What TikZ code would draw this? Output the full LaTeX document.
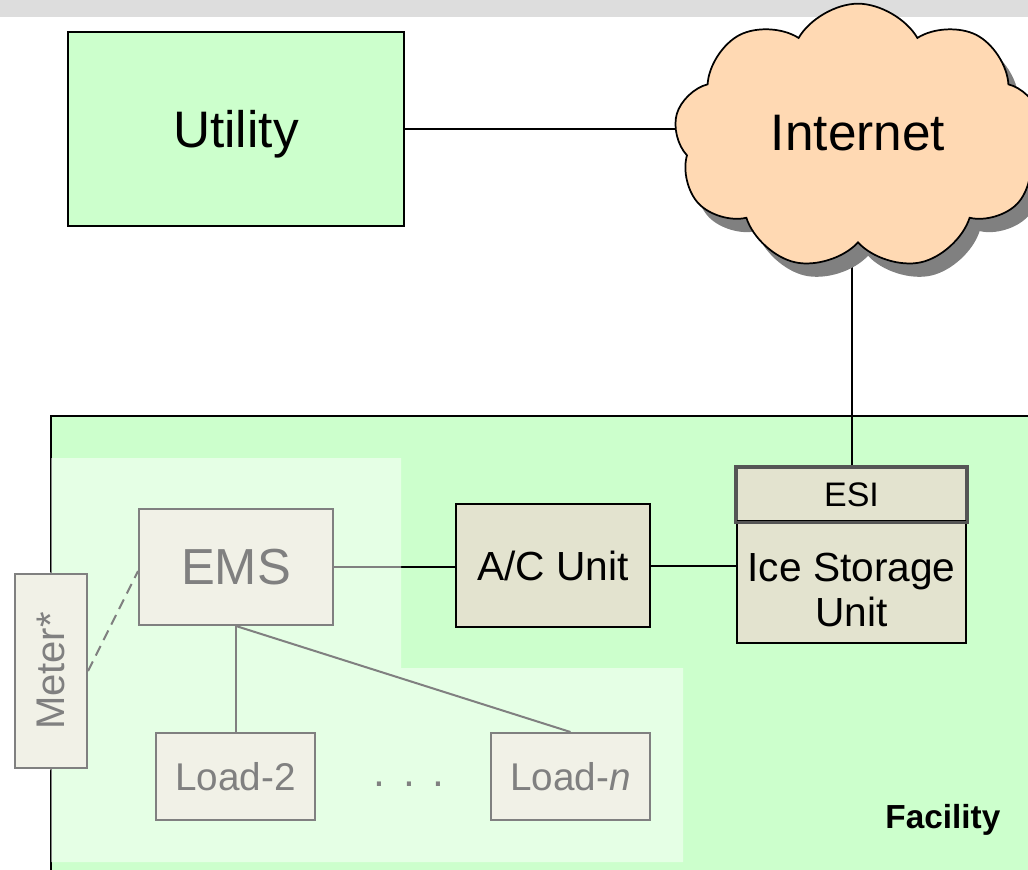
\documentclass[tikz,border=0pt]{standalone}
\usepackage{fontspec}
\setmainfont{Liberation Sans}
\usepackage{tikz}
\usetikzlibrary{calc}
\usetikzlibrary{positioning}
\usetikzlibrary{shapes.symbols, shadows}

\definecolor{facgreen}{RGB}{204,255,204}
\definecolor{unitfill}{RGB}{227,227,207}
\definecolor{cloudfill}{RGB}{255,217,179}
\definecolor{bandgray}{RGB}{221,221,221}
\definecolor{esiedge}{RGB}{85,85,85}

\pgfdeclarelayer{backdrop}
\pgfsetlayers{backdrop,main}

\tikzset{
  unitbox/.style={draw=black, line width=1.5pt, fill=unitfill, inner sep=0pt, align=center},
  wire/.style={draw=black, line width=1.5pt},
}

\begin{document}
\begin{tikzpicture}[x=0.75pt,y=0.75pt,yscale=-1,xscale=1]
            \useasboundingbox (0,0) rectangle (1028,869);
            \clip (0,0) rectangle (1028,869);

            % Text Node
            \node [draw=black, line width=1.5pt, fill=facgreen, minimum width=252pt, minimum height=145.5pt, text depth=0pt, font=\fontsize{38.5}{44}\selectfont] (util) at (236,129) {Utility};
            % Text Node
            \node [cloud, cloud puffs=9, cloud puff arc=120, cloud ignores aspect, draw=black, line width=1.3pt, fill=cloudfill, minimum width=276pt, minimum height=200pt, inner sep=0pt, font=\fontsize{38.5}{44}\selectfont, drop shadow={shadow xshift=7.5pt, shadow yshift=-10pt, opacity=1, fill=gray}] (net) at (858,137) {\raisebox{7pt}{Internet}};

            % Text Node
            \node [unitbox, minimum width=145.5pt, minimum height=92.25pt, font=\fontsize{30.5}{36}\selectfont] (ac) at (553,565.5) {A/C Unit};
            % Text Node
            \node [unitbox, draw=esiedge, line width=2pt, minimum width=171.75pt, minimum height=39.75pt, font=\fontsize{25.5}{30}\selectfont] (esi) at (851.5,494.5) {ESI};
            % Text Node
            \node [unitbox, minimum width=171.75pt, minimum height=91.5pt] (ice) at (851.5,582) {};
            \node [align=center, inner sep=0pt, font=\fontsize{30.5}{34}\selectfont] (icetext) at (851.5,590) {Ice Storage\\Unit};
            \draw [draw=esiedge, line width=2pt] (esi.north west) rectangle (esi.south east);

            % Text Node
            \node [unitbox, minimum width=145.5pt, minimum height=87pt, font=\fontsize{38}{44}\selectfont] (ems) at (236,567) {EMS};
            % Text Node
            \node [unitbox, rotate=90, minimum width=145.5pt, minimum height=54pt, font=\fontsize{30}{36}\selectfont] (meter) at (51,671) {Meter*};
            % Text Node
            \node [unitbox, minimum width=119.25pt, minimum height=65.25pt, font=\fontsize{29}{34}\selectfont] (load2) at (235.5,776.5) {Load-2};
            % Text Node
            \node [unitbox, minimum width=119.25pt, minimum height=65.25pt, font=\fontsize{29}{34}\selectfont] (loadn) at (570.5,776.5) {Load-\textit{n}};
            % Text Node
            \node [font=\fontsize{32}{34}\selectfont] (dots) at (409,784) {.\hspace{13pt}.\hspace{13pt}.};

            \begin{pgfonlayer}{backdrop}
            %Shape: Rectangle [top band]
            \fill [bandgray] (0,0) rectangle (1028,17);
            %Shape: Rectangle [facility]
            \draw [line width=1.5pt, fill=facgreen] (51,416) rectangle (1060,900);
            %Straight Lines
            \draw [wire] (esi.north) -- (esi.north |- net.center);
            \end{pgfonlayer}

            %Straight Lines
            \draw [wire] (util.east) -- (util.east -| net.west);
            \draw [wire] (ems.east) -- (ems.east -| ac.west);
            \draw [wire] (ac.east) -- (ac.east -| ice.west);
            \draw [wire] (ems.south) -- (ems.south |- load2.north);
            \draw [wire] (ems.south) -- (loadn.north);
            \draw [wire, dash pattern=on 8pt off 5pt] (meter.south) -- ($(ems.west)+(0,4)$);

            %Shape: Polygon [faded overlay]
            \fill [white, opacity=0.5] (51,458) -- (401,458) -- (401,668) -- (683,668) -- (683,862) -- (51,862) -- (51,770) -- (13,770) -- (13,572) -- (51,572) -- cycle;

            % Text Node
            \node [anchor=south east, font=\fontsize{25}{30}\selectfont\bfseries] (faclbl) at (1005,840) {Facility};

        \end{tikzpicture}
\end{document}
